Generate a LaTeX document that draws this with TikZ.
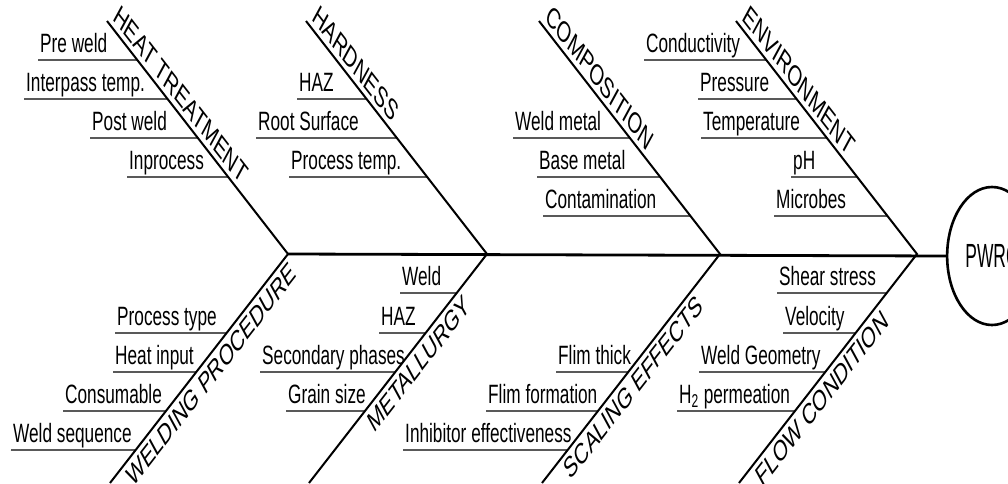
\documentclass[tikz,border=0pt]{standalone}
\usepackage{fontspec}
\setmainfont{Liberation Sans}
\newfontfamily\headfont{Liberation Sans}[FakeStretch=0.8]
\newcommand\causesize{\fontsize{13.25pt}{15pt}\selectfont}
\newcommand\catsize{\fontsize{14.5pt}{16pt}\selectfont}
\newcommand\headsize{\headfont\fontsize{16.75pt}{19pt}\selectfont}
\begin{document}
\begin{tikzpicture}[x=0.5pt, y=-0.5pt,
    spine/.style={line width=1.4pt},
    bone/.style={line width=1pt},
    twig/.style={line width=0.6pt},
    cause/.style={font=\causesize, xscale=0.65, anchor=south west,
      inner xsep=1.5pt, inner ysep=3.5pt, text depth=0pt},
    cattop/.style={font=\catsize, xscale=0.65, rotate=-39.9,
      anchor=south west, inner xsep=2.5pt, inner ysep=3pt, text depth=0pt},
    catbot/.style={font=\catsize, xscale=0.65, rotate=39.9,
      anchor=north west, inner xsep=2.5pt, inner ysep=3pt, text depth=0pt},
    head/.style={draw, circle, line width=1.3pt, font=\headsize,
      xscale=0.65, minimum size=69pt, inner sep=0pt}]
    \useasboundingbox (0,0) rectangle (1008,483);
    % junctions on the spine and bone ends
    \coordinate (j1) at (288,254);
    \coordinate (j2) at (487,254);
    \coordinate (j3) at (720,254);
    \coordinate (j4) at (917,254);
    \coordinate (t1) at (107,21);
    \coordinate (t2) at (306,21);
    \coordinate (t3) at (539,21);
    \coordinate (t4) at (736,21);
    \coordinate (b1) at (110,483);
    \coordinate (b2) at (309,483);
    \coordinate (b3) at (542,483);
    \coordinate (b4) at (739,483);
    \draw [bone] (t1) -- (j1) -- (b1);
    \draw [bone] (t2) -- (j2) -- (b2);
    \draw [bone] (t3) -- (j3) -- (b3);
    \draw [bone] (t4) -- (j4) -- (b4);
    \node [head] (pwrc) at (992,256) {PWRC};
    \draw [spine] (j1) -- (pwrc.west);
    % categories
    \node [cattop] (heat) at (t1) {HEAT TREATMENT};
    \node [cattop] (hard) at (t2) {HARDNESS};
    \node [cattop] (comp) at (t3) {COMPOSITION};
    \node [cattop] (envi) at (t4) {ENVIRONMENT};
    \path (b1) -- (j1) node [catbot, pos=0.055] (wproc) {WELDING PROCEDURE};
    \path (b2) -- (j2) node [catbot, pos=0.29] (metal) {METALLURGY};
    \path (b3) -- (j3) node [catbot, pos=0.085] (scal) {SCALING EFFECTS};
    \path (b4) -- (j4) node [catbot, pos=0.055] (flow) {FLOW CONDITION};
    % heat treatment
    \node [cause] (prew) at (38,60) {Pre weld};
    \draw [twig] (prew.south west) -- (intersection of prew.south west--prew.south east and t1--j1);
    \node [cause] (inter) at (24,99) {Interpass temp.};
    \draw [twig] (inter.south west) -- (intersection of inter.south west--inter.south east and t1--j1);
    \node [cause] (postw) at (90,138) {Post weld};
    \draw [twig] (postw.south west) -- (intersection of postw.south west--postw.south east and t1--j1);
    \node [cause] (inpro) at (127,177) {Inprocess};
    \draw [twig] (inpro.south west) -- (intersection of inpro.south west--inpro.south east and t1--j1);
    % hardness
    \node [cause] (haz1) at (297,99) {HAZ};
    \draw [twig] (haz1.south west) -- (intersection of haz1.south west--haz1.south east and t2--j2);
    \node [cause] (root) at (256,138) {Root Surface};
    \draw [twig] (root.south west) -- (intersection of root.south west--root.south east and t2--j2);
    \node [cause] (ptemp) at (289,177) {Process temp.};
    \draw [twig] (ptemp.south west) -- (intersection of ptemp.south west--ptemp.south east and t2--j2);
    % composition
    \node [cause] (wmet) at (513,138) {Weld metal};
    \draw [twig] (wmet.south west) -- (intersection of wmet.south west--wmet.south east and t3--j3);
    \node [cause] (bmet) at (537,177) {Base metal};
    \draw [twig] (bmet.south west) -- (intersection of bmet.south west--bmet.south east and t3--j3);
    \node [cause] (cont) at (543,216) {Contamination};
    \draw [twig] (cont.south west) -- (intersection of cont.south west--cont.south east and t3--j3);
    % environment
    \node [cause] (cond) at (644,60) {Conductivity};
    \draw [twig] (cond.south west) -- (intersection of cond.south west--cond.south east and t4--j4);
    \node [cause] (pres) at (698,99) {Pressure};
    \draw [twig] (pres.south west) -- (intersection of pres.south west--pres.south east and t4--j4);
    \node [cause] (temp) at (701,138) {Temperature};
    \draw [twig] (temp.south west) -- (intersection of temp.south west--temp.south east and t4--j4);
    \node [cause] (ph) at (791,177) {pH};
    \draw [twig] (ph.south west) -- (intersection of ph.south west--ph.south east and t4--j4);
    \node [cause] (micr) at (774,216) {Microbes};
    \draw [twig] (micr.south west) -- (intersection of micr.south west--micr.south east and t4--j4);
    % welding procedure
    \node [cause] (ptype) at (115,333) {Process type};
    \draw [twig] (ptype.south west) -- (intersection of ptype.south west--ptype.south east and b1--j1);
    \node [cause] (hinp) at (113,372) {Heat input};
    \draw [twig] (hinp.south west) -- (intersection of hinp.south west--hinp.south east and b1--j1);
    \node [cause] (cons) at (63,411) {Consumable};
    \draw [twig] (cons.south west) -- (intersection of cons.south west--cons.south east and b1--j1);
    \node [cause] (wseq) at (11,450) {Weld sequence};
    \draw [twig] (wseq.south west) -- (intersection of wseq.south west--wseq.south east and b1--j1);
    % metallurgy
    \node [cause] (weld) at (400,293) {Weld};
    \draw [twig] (weld.south west) -- (intersection of weld.south west--weld.south east and b2--j2);
    \node [cause] (haz2) at (379,333) {HAZ};
    \draw [twig] (haz2.south west) -- (intersection of haz2.south west--haz2.south east and b2--j2);
    \node [cause] (secp) at (260,372) {Secondary phases};
    \draw [twig] (secp.south west) -- (intersection of secp.south west--secp.south east and b2--j2);
    \node [cause] (grain) at (286,411) {Grain size};
    \draw [twig] (grain.south west) -- (intersection of grain.south west--grain.south east and b2--j2);
    % scaling effects
    \node [cause] (fthk) at (556,372) {Flim thick};
    \draw [twig] (fthk.south west) -- (intersection of fthk.south west--fthk.south east and b3--j3);
    \node [cause] (fform) at (486,411) {Flim formation};
    \draw [twig] (fform.south west) -- (intersection of fform.south west--fform.south east and b3--j3);
    \node [cause] (inhib) at (403,450) {Inhibitor effectiveness};
    \draw [twig] (inhib.south west) -- (intersection of inhib.south west--inhib.south east and b3--j3);
    % flow condition
    \node [cause] (shear) at (777,293) {Shear stress};
    \draw [twig] (shear.south west) -- (intersection of shear.south west--shear.south east and b4--j4);
    \node [cause] (velo) at (783,333) {Velocity};
    \draw [twig] (velo.south west) -- (intersection of velo.south west--velo.south east and b4--j4);
    \node [cause] (wgeo) at (699,372) {Weld Geometry};
    \draw [twig] (wgeo.south west) -- (intersection of wgeo.south west--wgeo.south east and b4--j4);
    \node [cause] (hperm) at (677,411) {H\textsubscript{2} permeation};
    \draw [twig] (hperm.south west) -- (intersection of hperm.south west--hperm.south east and b4--j4);
\end{tikzpicture}
\end{document}
